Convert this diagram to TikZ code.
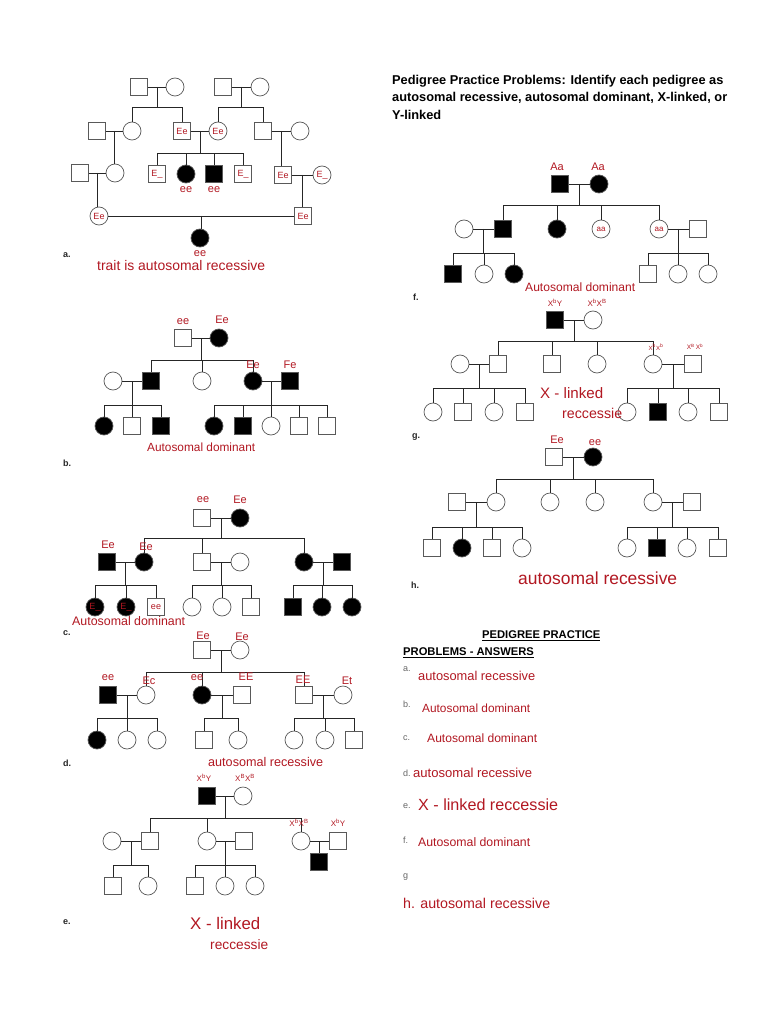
\documentclass[tikz,border=0pt]{standalone}
\usepackage{fontspec}
\usepackage{graphicx}
\setmainfont{Liberation Sans}
\usetikzlibrary{calc}
\definecolor{hw}{RGB}{178,24,34}
\newcommand\gtf{\fontsize{9}{10}\selectfont}
\newcommand\gtl{\fontsize{11}{12}\selectfont}
\newcommand\gts{\fontsize{8}{9}\selectfont}
\newcommand\hwf{\fontsize{12}{14}\selectfont}
\newcommand\hfit[2]{\resizebox{#1pt}{!}{#2}}
\newcommand\xs[1]{X\textsuperscript{#1}}
\newcommand\pfam[4]{%
 \draw[ln] (#1) -- (#2);
 \coordinate (mm) at ($(#1)!0.5!(#2)$);
 \coordinate (yy) at (0,#3);
 \draw[ln] (mm) -- (mm |- yy);
 \foreach \kid in {#4}{\draw[ln] (\kid.north) |- (mm |- yy);}
}
\newcommand\pone[3]{%
 \draw[ln] (#1) -- (#2);
 \coordinate (mm) at ($(#1)!0.5!(#2)$);
 \draw[ln] (mm) -- (mm |- #3.north);
}
\begin{document}
\begin{tikzpicture}[x=1pt,y=-1pt,
 ind/.style={draw=black!65, line width=0.7pt, inner sep=0pt, fill=white, font=\gtf, text=hw},
 sq/.style={ind, rectangle, minimum size=17pt},
 sqf/.style={sq, fill=black},
 ci/.style={ind, circle, minimum size=18pt},
 cif/.style={ci, fill=black},
 ln/.style={draw=black!85, line width=0.9pt},
 gt/.style={text=hw, font=\gtl, inner sep=0pt},
 gs/.style={text=hw, font=\gts, inner sep=0pt},
 hwl/.style={text=hw, font=\hwf, inner sep=0pt, anchor=west},
 ltr/.style={font=\bfseries\fontsize{9}{10}\selectfont, text=black!85, inner sep=0pt, anchor=west},
 ans/.style={font=\fontsize{9}{10}\selectfont, text=black!60, inner sep=0pt, anchor=west},
 hd/.style={font=\bfseries\fontsize{12.8}{15}\selectfont, inner sep=0pt, anchor=west},
 ah/.style={font=\bfseries\fontsize{11.2}{13}\selectfont, inner sep=0pt, anchor=west},
]
\fill[white] (0,0) rectangle (768,1024);
\useasboundingbox (0,0) rectangle (768,1024);

% ===== a =====
\node[sq] (aA) at (139,87) {};
\node[ci] (aB) at (175,87) {};
\node[sq] (aC) at (223,87) {};
\node[ci] (aD) at (260,87) {};
\node[sq] (aE) at (97,131) {};
\node[ci] (aF) at (132,131) {};
\node[sq] (aG) at (182,131) {Ee};
\node[ci] (aH) at (218,131) {Ee};
\node[sq] (aI) at (263,131) {};
\node[ci] (aJ) at (300,131) {};
\node[sq] (aK) at (80,173) {};
\node[ci] (aL) at (115,173) {};
\node[sq] (aM) at (157,174) {E\_};
\node[cif] (aN) at (186,174) {};
\node[sqf] (aO) at (214,174) {};
\node[sq] (aP) at (243,174) {E\_};
\node[sq] (aQ) at (283,175) {Ee};
\node[ci] (aR) at (322,175) {E\_};
\node[ci] (aS) at (99,216) {Ee};
\node[sq] (aT) at (303,216) {Ee};
\node[cif] (aU) at (200,238) {};
\pfam{aA}{aB}{107}{aF,aG}
\pfam{aC}{aD}{107}{aH,aI}
\pone{aE}{aF}{aL}
\pfam{aG}{aH}{153}{aM,aN,aO,aP}
\pone{aI}{aJ}{aQ}
\pone{aK}{aL}{aS}
\pone{aQ}{aR}{aT}
\pone{aS}{aT}{aU}
\node[gt] (ta1) at (186,190) {ee};
\node[gt] (ta2) at (214,190) {ee};
\node[gt] (ta3) at (200,254) {ee};
\node[ltr] (ta4) at (63,255) {a.};
\node[hwl] (ta5) at (97,266) {\hfit{168}{trait is autosomal recessive}};

% ===== b =====
\node[sq] (bA) at (183,338) {};
\node[cif] (bB) at (219,338) {};
\node[ci] (bC) at (113,381) {};
\node[sqf] (bD) at (151,381) {};
\node[ci] (bE) at (202,381) {};
\node[cif] (bF) at (253,381) {};
\node[sqf] (bG) at (290,381) {};
\node[cif] (bH) at (104,426) {};
\node[sq] (bI) at (132,426) {};
\node[sqf] (bJ) at (161,426) {};
\node[cif] (bK) at (214,426) {};
\node[sqf] (bL) at (243,426) {};
\node[ci] (bM) at (271,426) {};
\node[sq] (bN) at (299,426) {};
\node[sq] (bO) at (327,426) {};
\pfam{bA}{bB}{360}{bD,bE,bF}
\pfam{bC}{bD}{405}{bH,bI,bJ}
\pfam{bF}{bG}{405}{bK,bL,bM,bN,bO}
\node[gt] (tb1) at (183,322) {ee};
\node[gt] (tb2) at (222,320) {Ee};
\node[gt] (tb3) at (253,365) {Ee};
\node[gt] (tb4) at (290,365) {Fe};
\node[hwl] (tb5) at (147,447) {\hfit{108}{Autosomal dominant}};
\node[ltr] (tb6) at (63,463) {b.};

% ===== c =====
\node[sq] (cA) at (202,518) {};
\node[cif] (cB) at (240,518) {};
\node[sqf] (cC) at (107,562) {};
\node[cif] (cD) at (144,562) {};
\node[sq] (cE) at (202,562) {};
\node[ci] (cF) at (240,562) {};
\node[cif] (cG) at (304,562) {};
\node[sqf] (cH) at (342,562) {};
\node[cif] (cI) at (95,607) {E\_};
\node[cif] (cJ) at (126,607) {E\_};
\node[sq] (cK) at (156,607) {ee};
\node[ci] (cL) at (192,607) {};
\node[ci] (cM) at (222,607) {};
\node[sq] (cN) at (251,607) {};
\node[sqf] (cO) at (293,607) {};
\node[cif] (cP) at (322,607) {};
\node[cif] (cQ) at (352,607) {};
\pfam{cA}{cB}{538}{cD,cE,cG}
\pfam{cC}{cD}{585}{cI,cJ,cK}
\pfam{cE}{cF}{585}{cL,cM,cN}
\pfam{cG}{cH}{585}{cO,cP,cQ}
\node[gt] (tc1) at (203,500) {ee};
\node[gt] (tc2) at (240,500) {Ee};
\node[gt] (tc3) at (108,545) {Ee};
\node[gt] (tc4) at (146,547) {Ee};
\node[hwl] (tc5) at (72,621) {\hfit{113}{Autosomal dominant}};
\node[ltr] (tc6) at (63,633) {c.};

% ===== d =====
\node[sq] (dA) at (202,650) {};
\node[ci] (dB) at (240,650) {};
\node[sqf] (dC) at (108,695) {};
\node[ci] (dD) at (146,695) {};
\node[cif] (dE) at (202,695) {};
\node[sq] (dF) at (242,695) {};
\node[sq] (dG) at (304,695) {};
\node[ci] (dH) at (343,695) {};
\node[cif] (dI) at (97,740) {};
\node[ci] (dJ) at (127,740) {};
\node[ci] (dK) at (157,740) {};
\node[sq] (dL) at (204,740) {};
\node[ci] (dM) at (238,740) {};
\node[ci] (dN) at (294,740) {};
\node[ci] (dO) at (325,740) {};
\node[sq] (dP) at (354,740) {};
\pfam{dA}{dB}{672}{dD,dE,dG}
\pfam{dC}{dD}{718}{dI,dJ,dK}
\pfam{dE}{dF}{718}{dL,dM}
\pfam{dG}{dH}{718}{dN,dO,dP}
\node[gt] (td1) at (203,636) {Ee};
\node[gt] (td2) at (242,637) {Ee};
\node[gt] (td3) at (108,678) {ee};
\node[gt] (td4) at (149,681) {Ec};
\node[gt] (td5) at (197,678) {ee};
\node[gt] (td6) at (246,677) {EE};
\node[gt] (td7) at (303,680) {EE};
\node[gt] (td8) at (347,681) {Et};
\node[hwl] (td9) at (208,762) {\hfit{115}{autosomal recessive}};
\node[ltr] (td10) at (63,763) {d.};

% ===== e =====
\node[sqf] (eA) at (207,796) {};
\node[ci] (eB) at (243,796) {};
\node[ci] (eC) at (112,841) {};
\node[sq] (eD) at (150,841) {};
\node[ci] (eE) at (207,841) {};
\node[sq] (eF) at (244,841) {};
\node[ci] (eG) at (301,841) {};
\node[sq] (eH) at (338,841) {};
\node[sq] (eI) at (113,886) {};
\node[ci] (eJ) at (148,886) {};
\node[sq] (eK) at (195,886) {};
\node[ci] (eL) at (225,886) {};
\node[ci] (eM) at (255,886) {};
\node[sqf] (eN) at (319,862) {};
\pfam{eA}{eB}{818}{eD,eE,eG}
\pfam{eC}{eD}{865}{eI,eJ}
\pfam{eE}{eF}{865}{eK,eL,eM}
\pone{eG}{eH}{eN}
\node[gs] (te1) at (204,778) {\xs{b}Y};
\node[gs] (te2) at (245,778) {\xs{B}\xs{B}};
\node[gs] (te3) at (299,823) {\xs{b}\xs{B}};
\node[gs] (te4) at (338,823) {\xs{b}Y};
\node[hwl] (te5) at (190,923) {\hfit{70}{X - linked}};
\node[hwl] (te6) at (210,945) {\hfit{58}{reccessie}};
\node[ltr] (te7) at (63,922) {e.};

% ===== header =====
\node[hd] (h1) at (392,81) {Pedigree Practice Problems: Identify each pedigree as};
\node[hd] (h2) at (392,98) {autosomal recessive, autosomal dominant, X-linked, or};
\node[hd] (h3) at (392,115) {Y-linked};

% ===== f =====
\node[sqf] (fA) at (560,184) {};
\node[cif] (fB) at (599,184) {};
\node[ci] (fC) at (464,229) {};
\node[sqf] (fD) at (503,229) {};
\node[cif] (fE) at (557,229) {};
\node[ci, font=\gts] (fF) at (601,229) {aa};
\node[ci, font=\gts] (fG) at (659,229) {aa};
\node[sq] (fH) at (698,229) {};
\node[sqf] (fI) at (453,274) {};
\node[ci] (fJ) at (484,274) {};
\node[cif] (fK) at (514,274) {};
\node[sq] (fL) at (648,274) {};
\node[ci] (fM) at (678,274) {};
\node[ci] (fN) at (708,274) {};
\pfam{fA}{fB}{205}{fD,fE,fF,fG}
\pfam{fC}{fD}{253}{fI,fJ,fK}
\pfam{fG}{fH}{253}{fL,fM,fN}
\node[gt] (tf1) at (557,167) {Aa};
\node[gt] (tf2) at (598,167) {Aa};
\node[hwl] (tf3) at (525,287) {\hfit{110}{Autosomal dominant}};
\node[ltr] (tf4) at (413,297) {f.};

% ===== g =====
\node[sqf] (gA) at (555,320) {};
\node[ci] (gB) at (593,320) {};
\node[ci] (gC) at (460,364) {};
\node[sq] (gD) at (498,364) {};
\node[sq] (gE) at (552,364) {};
\node[ci] (gF) at (597,364) {};
\node[ci] (gG) at (653,364) {};
\node[sq] (gH) at (693,364) {};
\node[ci] (gI) at (433,412) {};
\node[sq] (gJ) at (463,412) {};
\node[ci] (gK) at (494,412) {};
\node[sq] (gL) at (525,412) {};
\node[ci] (gM) at (627,412) {};
\node[sqf] (gN) at (658,412) {};
\node[ci] (gO) at (688,412) {};
\node[sq] (gP) at (719,412) {};
\pfam{gA}{gB}{341}{gD,gE,gF,gG}
\pfam{gC}{gD}{388}{gI,gJ,gK,gL}
\pfam{gG}{gH}{388}{gM,gN,gO,gP}
\node[gs] (tg1) at (555,303) {\xs{b}Y};
\node[gs] (tg2) at (597,303) {\xs{b}\xs{B}};
\node[gs, font=\fontsize{6}{7}\selectfont] (tg3) at (656,347) {\xs{b}\xs{b}};
\node[gs, font=\fontsize{6.5}{7}\selectfont] (tg4) at (695,347) {\xs{B}\,\xs{b}};
\node[hwl] (tg5) at (540,393) {\hfit{63}{X - linked}};
\node[hwl] (tg6) at (562,413) {\hfit{60}{reccessie}};
\node[ltr] (tg7) at (412,437) {g.};

% ===== h =====
\node[sq] (hA) at (554,457) {};
\node[cif] (hB) at (593,457) {};
\node[sq] (hC) at (457,502) {};
\node[ci] (hD) at (496,502) {};
\node[ci] (hE) at (550,502) {};
\node[ci] (hF) at (595,502) {};
\node[ci] (hG) at (653,502) {};
\node[sq] (hH) at (692,502) {};
\node[sq] (hI) at (432,548) {};
\node[cif] (hJ) at (462,548) {};
\node[sq] (hK) at (492,548) {};
\node[ci] (hL) at (522,548) {};
\node[ci] (hM) at (627,548) {};
\node[sqf] (hN) at (657,548) {};
\node[ci] (hO) at (687,548) {};
\node[sq] (hP) at (718,548) {};
\pfam{hA}{hB}{479}{hD,hE,hF,hG}
\pfam{hC}{hD}{527}{hI,hJ,hK,hL}
\pfam{hG}{hH}{527}{hM,hN,hO,hP}
\node[gt] (th1) at (557,440) {Ee};
\node[gt] (th2) at (595,443) {ee};
\node[hwl] (th3) at (518,578) {\hfit{159}{autosomal recessive}};
\node[ltr] (th4) at (411,585) {h.};

% ===== answers =====
\node[ah] (k1) at (482,636) {\underline{PEDIGREE PRACTICE}};
\node[ah] (k2) at (403,653) {\underline{PROBLEMS - ANSWERS}};
\node[ans] (k3) at (403,669) {a.};
\node[hwl] (k4) at (418,676) {\hfit{117}{autosomal recessive}};
\node[ans] (k5) at (403,704) {b.};
\node[hwl] (k6) at (422,708) {\hfit{108}{Autosomal dominant}};
\node[ans] (k7) at (403,738) {c.};
\node[hwl] (k8) at (427,738) {\hfit{110}{Autosomal dominant}};
\node[ans] (k9) at (403,773) {d.};
\node[hwl] (k10) at (413,773) {\hfit{119}{autosomal recessive}};
\node[ans] (k11) at (403,806) {e.};
\node[hwl] (k12) at (418,805) {\hfit{140}{X - linked reccessie}};
\node[ans] (k13) at (403,840) {f.};
\node[hwl] (k14) at (418,842) {\hfit{112}{Autosomal dominant}};
\node[ans] (k15) at (403,877) {g};
\node[hwl] (k16) at (403,903) {\hfit{147}{h. autosomal recessive}};
\end{tikzpicture}
\end{document}
